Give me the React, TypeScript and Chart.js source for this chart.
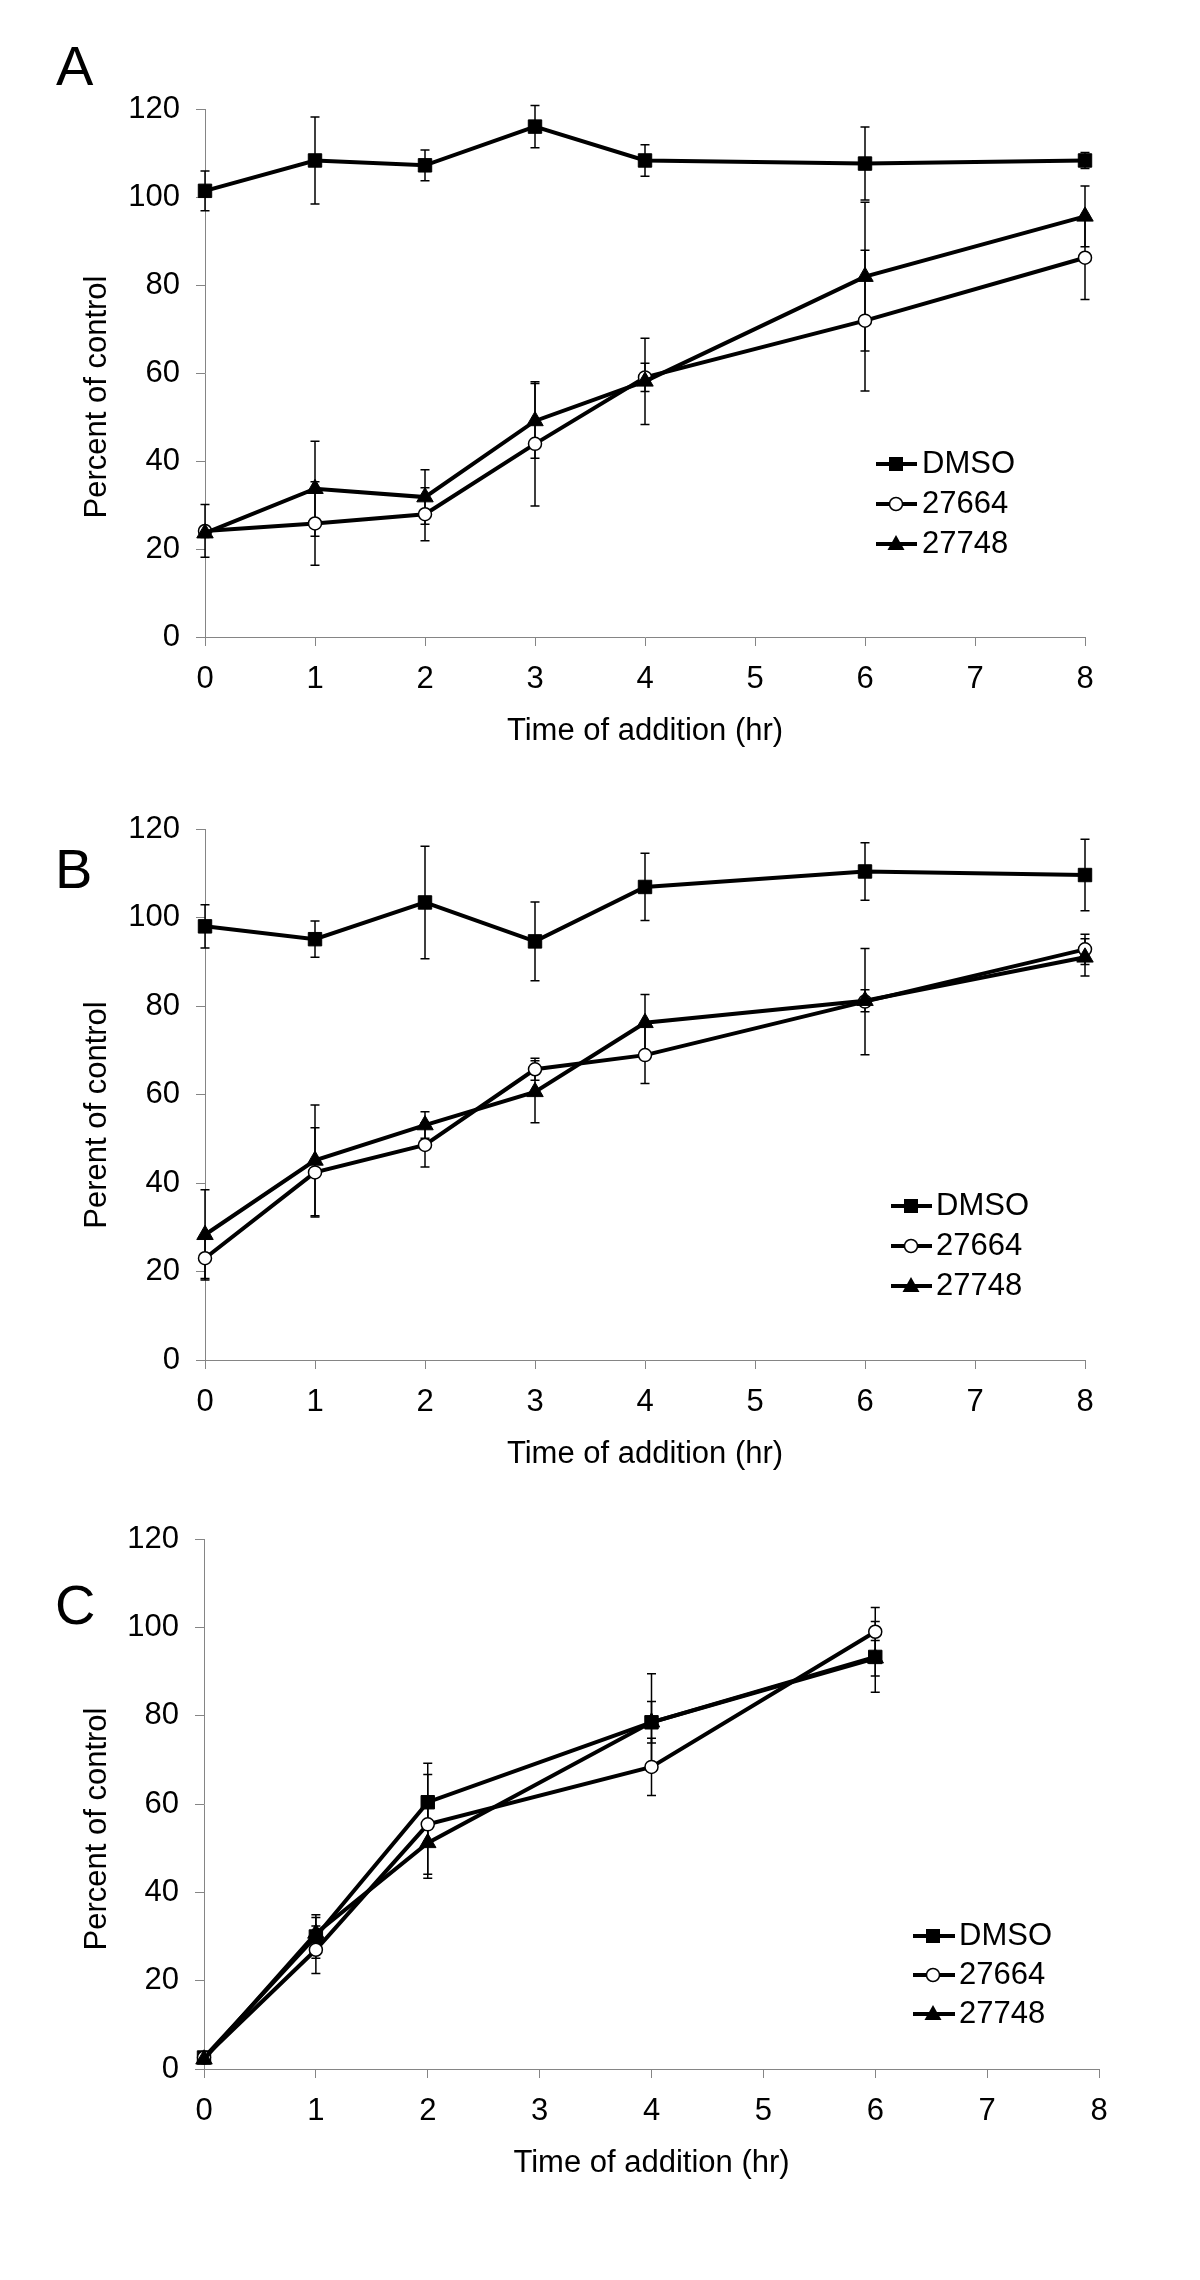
import React, { useEffect, useRef } from 'react';
import { Chart, registerables } from 'chart.js';

Chart.register(...registerables);

const FONT = '"Liberation Sans", Arial, Helvetica, sans-serif';

// ---------- Data ----------
const seriesNames = ['DMSO', '27664', '27748'];
const xAxisTitle = 'Time of addition (hr)';
const yTicksMin = 0;
const yTicksMax = 120;
const yTickStep = 20;
const xTicksMin = 0;
const xTicksMax = 8;

// Panel A
const timesA = [0, 1, 2, 3, 4, 6, 8];
const aDmso = [101.4, 108.3, 107.2, 116.0, 108.3, 107.6, 108.3];
const aDmsoErr = [4.5, 9.9, 3.5, 4.8, 3.6, 8.3, 1.8];
const a27664 = [24.1, 25.8, 27.9, 43.9, 59.0, 71.9, 86.2];
const a27664Err = [6.0, 9.5, 6.0, 14.1, 3.2, 16.0, 9.5];
const a27748 = [23.6, 33.7, 31.8, 49.1, 58.1, 81.9, 95.6];
const a27748Err = [1.0, 10.8, 6.2, 8.5, 9.8, 16.9, 6.9];

// Panel B
const timesB = [0, 1, 2, 3, 4, 6, 8];
const bDmso = [98.0, 95.1, 103.4, 94.6, 106.9, 110.4, 109.6];
const bDmsoErr = [4.9, 4.1, 12.7, 8.9, 7.6, 6.5, 8.1];
const b27664 = [23.0, 42.4, 48.6, 65.7, 68.9, 81.0, 92.8];
const b27664Err = [4.6, 10.1, 5.0, 2.5, 6.4, 12.0, 3.4];
const b27748 = [28.3, 45.1, 53.1, 60.6, 76.2, 81.2, 91.0];
const b27748Err = [10.2, 12.5, 3.0, 7.0, 6.4, 2.5, 4.2];

// Panel C
const timesC = [0, 1, 2, 4, 6];
const cDmso = [2.6, 30.0, 60.4, 78.5, 93.3];
const cDmsoErr = [0.5, 4.9, 8.8, 11.0, 8.0];
const c27664 = [2.6, 27.0, 55.4, 68.4, 99.0];
const c27664Err = [0.5, 5.4, 11.3, 6.5, 5.5];
const c27748 = [2.2, 30.7, 51.2, 78.5, 93.0];
const c27748Err = [0.5, 3.6, 8.0, 4.7, 4.0];

// ---------- Layout (page coordinates) ----------
const AXIS_GRAY = '#858585';

const panels = [
  {
    key: 'A', top: 0, height: 760,
    area: { top: 109, left: 205, right: 1085 },
    letter: 'A', letterPos: [56, 85],
    yTitle: 'Percent of control', yTitlePos: [97, 397],
    legend: { x0: 876, x1: 917, mx: 896, tx: 922, rows: [464, 504, 544] },
    times: timesA,
    values: [aDmso, a27664, a27748],
    errors: [aDmsoErr, a27664Err, a27748Err],
  },
  {
    key: 'B', top: 760, height: 723,
    area: { top: 69, left: 205, right: 1085 },
    letter: 'B', letterPos: [55, 888],
    yTitle: 'Perent of control', yTitlePos: [97, 1115],
    legend: { x0: 891, x1: 932, mx: 911, tx: 936, rows: [1206, 1246, 1286] },
    times: timesB,
    values: [bDmso, b27664, b27748],
    errors: [bDmsoErr, b27664Err, b27748Err],
  },
  {
    key: 'C', top: 1483, height: 709,
    area: { top: 56, left: 204, right: 1099 },
    letter: 'C', letterPos: [55, 1624],
    yTitle: 'Percent of control', yTitlePos: [97, 1829],
    legend: { x0: 913, x1: 955, mx: 933, tx: 959, rows: [1936, 1975, 2014] },
    times: timesC,
    values: [cDmso, c27664, c27748],
    errors: [cDmsoErr, c27664Err, c27748Err],
  },
];

const seriesStyles = [
  { pointStyle: 'rect', radius: 9.5, fill: '#000', border: '#000', bw: 1, order: 3 },
  { pointStyle: 'circle', radius: 6.5, fill: '#fff', border: '#000', bw: 1.5, order: 2 },
  { pointStyle: 'triangle', radius: 9.5, fill: '#000', border: '#000', bw: 1, order: 1 },
];

function drawMarker(ctx: CanvasRenderingContext2D, kind: number, x: number, y: number) {
  ctx.save();
  ctx.strokeStyle = '#000';
  if (kind === 0) {
    ctx.fillStyle = '#000';
    ctx.fillRect(x - 7, y - 7, 14, 14);
  } else if (kind === 1) {
    ctx.beginPath();
    ctx.arc(x, y, 6.5, 0, Math.PI * 2);
    ctx.fillStyle = '#fff';
    ctx.fill();
    ctx.lineWidth = 1.5;
    ctx.stroke();
  } else {
    ctx.beginPath();
    ctx.moveTo(x, y - 9);
    ctx.lineTo(x + 8.5, y + 6);
    ctx.lineTo(x - 8.5, y + 6);
    ctx.closePath();
    ctx.fillStyle = '#000';
    ctx.fill();
  }
  ctx.restore();
}

function makeConfig(panel: any) {
  const offY = panel.top;
  const errorBars = {
    id: 'errorBars' + panel.key,
    beforeDatasetsDraw(chart: any) {
      const ctx = chart.ctx;
      const yScale = chart.scales.y;
      ctx.save();
      ctx.strokeStyle = '#000';
      ctx.lineWidth = 1.5;
      chart.data.datasets.forEach((ds: any, i: number) => {
        const meta = chart.getDatasetMeta(i);
        if (!meta || meta.hidden) return;
        meta.data.forEach((pt: any, j: number) => {
          const v = ds.data[j].y;
          const e = ds.errors[j];
          const x = pt.x;
          const yTop = yScale.getPixelForValue(v + e);
          const yBot = yScale.getPixelForValue(v - e);
          ctx.beginPath();
          ctx.moveTo(x, yTop);
          ctx.lineTo(x, yBot);
          ctx.moveTo(x - 4.5, yTop);
          ctx.lineTo(x + 4.5, yTop);
          ctx.moveTo(x - 4.5, yBot);
          ctx.lineTo(x + 4.5, yBot);
          ctx.stroke();
        });
      });
      ctx.restore();
    },
  };

  const decor = {
    id: 'decor' + panel.key,
    afterDraw(chart: any) {
      const ctx = chart.ctx;
      ctx.save();
      ctx.fillStyle = '#000';
      // panel letter
      ctx.font = `56px ${FONT}`;
      ctx.textAlign = 'left';
      ctx.textBaseline = 'alphabetic';
      ctx.fillText(panel.letter, panel.letterPos[0], panel.letterPos[1] - offY);
      // y title
      ctx.save();
      ctx.translate(panel.yTitlePos[0], panel.yTitlePos[1] - offY);
      ctx.rotate(-Math.PI / 2);
      ctx.font = `31px ${FONT}`;
      ctx.textAlign = 'center';
      ctx.textBaseline = 'middle';
      ctx.fillText(panel.yTitle, 0, 0);
      ctx.restore();
      // legend
      const lg = panel.legend;
      seriesNames.forEach((name, i) => {
        const y = lg.rows[i] - offY;
        ctx.save();
        ctx.strokeStyle = '#000';
        ctx.lineWidth = 4;
        ctx.beginPath();
        ctx.moveTo(lg.x0, y);
        ctx.lineTo(lg.x1, y);
        ctx.stroke();
        ctx.restore();
        drawMarker(ctx, i, lg.mx, y);
        ctx.font = `31px ${FONT}`;
        ctx.textAlign = 'left';
        ctx.textBaseline = 'middle';
        ctx.fillStyle = '#000';
        ctx.fillText(name, lg.tx, y);
      });
      ctx.restore();
    },
  };

  const tickFont = { family: FONT, size: 31 };

  const datasets = seriesNames.map((name, i) => {
    const st = seriesStyles[i];
    return {
      label: name,
      data: panel.times.map((t: number, j: number) => ({ x: t, y: panel.values[i][j] })),
      errors: panel.errors[i],
      borderColor: '#000',
      backgroundColor: '#000',
      borderWidth: 4,
      tension: 0,
      pointStyle: st.pointStyle,
      pointRadius: st.radius,
      pointHoverRadius: st.radius,
      pointBackgroundColor: st.fill,
      pointBorderColor: st.border,
      pointBorderWidth: st.bw,
      order: st.order,
      clip: false,
    };
  });

  return {
    type: 'line',
    data: { datasets },
    options: {
      responsive: false,
      animation: false,
      devicePixelRatio: 1,
      events: [],
      layout: {
        autoPadding: false,
        padding: { top: panel.area.top, left: 0, right: 1200 - panel.area.right, bottom: 0 },
      },
      plugins: {
        legend: { display: false },
        tooltip: { enabled: false },
        title: { display: false },
      },
      scales: {
        x: {
          type: 'linear',
          min: xTicksMin,
          max: xTicksMax,
          afterFit: (s: any) => { s.height = 123; },
          ticks: { stepSize: 1, padding: 15, color: '#000', font: tickFont, maxRotation: 0 },
          grid: {
            display: true, drawOnChartArea: false, drawTicks: true,
            tickLength: 9, tickColor: AXIS_GRAY, tickWidth: 1, color: AXIS_GRAY,
          },
          border: { display: true, color: AXIS_GRAY, width: 1 },
          title: {
            display: true, text: xAxisTitle, color: '#000', font: tickFont,
            padding: { top: 0, bottom: 10 },
          },
        },
        y: {
          type: 'linear',
          min: yTicksMin,
          max: yTicksMax,
          afterFit: (s: any) => { s.width = panel.area.left; },
          ticks: { stepSize: yTickStep, padding: 16, color: '#000', font: tickFont },
          grid: {
            display: true, drawOnChartArea: false, drawTicks: true,
            tickLength: 9, tickColor: AXIS_GRAY, tickWidth: 1, color: AXIS_GRAY,
          },
          border: { display: true, color: AXIS_GRAY, width: 1 },
        },
      },
    },
    plugins: [errorBars, decor],
  };
}

function PanelChart({ panel }: { panel: any }) {
  const ref = useRef<HTMLCanvasElement | null>(null);
  useEffect(() => {
    if (!ref.current) return;
    const chart = new Chart(ref.current, makeConfig(panel) as any);
    return () => chart.destroy();
  }, [panel]);
  return (
    <canvas
      ref={ref}
      width={1200}
      height={panel.height}
      style={{ position: 'absolute', left: 0, top: panel.top, width: 1200, height: panel.height, display: 'block' }}
    />
  );
}

export default function App() {
  return (
    <div style={{ position: 'absolute', left: 0, top: 0, width: 1200, height: 2280, background: '#fff', overflow: 'hidden' }}>
      {panels.map((p) => (
        <PanelChart key={p.key} panel={p} />
      ))}
    </div>
  );
}
